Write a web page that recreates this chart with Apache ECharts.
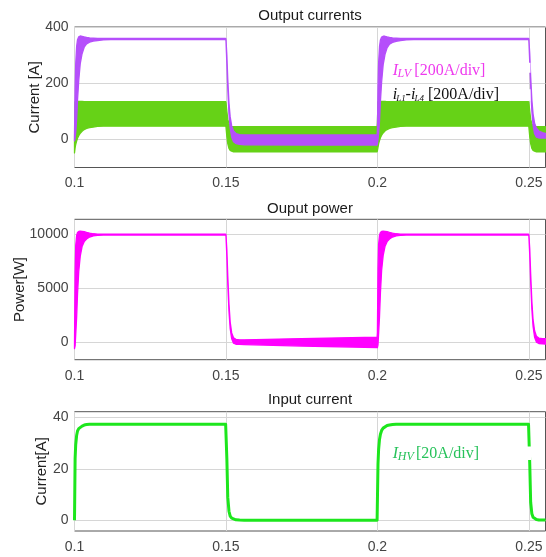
<!DOCTYPE html>
<html>
<head>
<meta charset="utf-8">
<script src="https://cdn.jsdelivr.net/npm/echarts@6/dist/echarts.min.js"></script>
<style>
  html, body { margin: 0; padding: 0; background: #fff; }
  #chart { width: 546px; height: 557px; }
</style>
</head>
<body>
<div id="chart"></div>
<script>
// Simulation time [s], shared by all three panels
const time = [
  0.1, 0.1002, 0.1004, 0.1007, 0.101, 0.1014, 0.1019, 0.1025, 0.1032, 0.104, 0.105, 0.1062, 0.1076, 0.1095, 0.112, 0.13,
  0.1499, 0.15, 0.1503, 0.1506, 0.151, 0.1514, 0.1519, 0.1525, 0.1533, 0.1545, 0.156, 0.175,
  0.1999, 0.2, 0.2002, 0.2004, 0.2007, 0.201, 0.2014, 0.2019, 0.2025, 0.2032, 0.204, 0.205, 0.2062, 0.2076, 0.2095, 0.212, 0.23,
  0.2499, 0.25, 0.2503, 0.2506, 0.251, 0.2514, 0.2519, 0.2525, 0.2533, 0.2545, 0.2555
];

// Low-voltage output current I_LV: ripple envelope (upper / lower) [A]
const ilvHigh = [
  20, 180, 270, 330, 355, 365, 368, 367, 365, 363, 361, 360, 359, 359, 359, 359,
  359, 358, 300, 215, 130, 80, 48, 30, 21, 17, 16, 16,
  16, 30, 185, 272, 330, 354, 364, 367, 367, 365, 363, 361, 360, 359, 359, 359, 359,
  359, 358, 305, 225, 140, 90, 58, 40, 30, 24, 21
];
const ilvLow = [
  -5, 5, 25, 70, 140, 210, 270, 305, 328, 340, 346, 350, 352, 354, 355, 355,
  355, 352, 270, 180, 90, 40, 8, -8, -15, -18, -19, -20,
  -20, -15, 0, 22, 65, 135, 205, 265, 302, 326, 339, 345, 349, 352, 354, 355, 355,
  355, 352, 275, 190, 100, 50, 20, 8, 5, 5, 5
];

// Phase inductor currents i_L1..i_L4: ripple envelope [A]
const iLHigh = [
  -10, 134, 135, 135, 135, 135, 135, 135, 134, 134, 134, 134, 134, 134, 134, 134,
  134, 133, 100, 72, 55, 48, 46, 45, 45, 45, 45, 45,
  45, 60, 134, 135, 135, 135, 135, 135, 135, 134, 134, 134, 134, 134, 134, 134, 134,
  134, 133, 100, 72, 55, 48, 46, 45, 45, 45, 45
];
const iLLow = [
  -48, -30, -18, -6, 4, 13, 22, 29, 35, 39, 42, 44, 46, 47, 47, 47,
  47, 45, 10, -15, -32, -39, -42, -44, -44, -44, -44, -44,
  -44, -40, -28, -16, -4, 6, 15, 23, 30, 35, 39, 42, 44, 46, 47, 47, 47,
  47, 45, 10, -15, -32, -39, -42, -44, -44, -44, -44
];

// Output power envelope [W]
const powHigh = [
  0, 6500, 9000, 9900, 10200, 10300, 10330, 10310, 10270, 10200, 10130, 10080, 10050, 10040, 10040, 10040,
  10040, 10020, 8600, 6200, 3600, 1900, 900, 450, 300, 260, 260, 380,
  500, 900, 6800, 9100, 9950, 10200, 10300, 10330, 10310, 10270, 10200, 10130, 10080, 10050, 10040, 10040, 10040,
  10040, 10020, 8700, 6400, 3800, 2100, 1100, 600, 420, 380, 370
];
const powLow = [
  -550, -300, 700, 2300, 4500, 6600, 8000, 8900, 9350, 9600, 9780, 9880, 9930, 9960, 9960, 9960,
  9960, 9900, 8000, 5500, 2900, 1300, 350, -50, -150, -170, -180, -320,
  -450, -450, -200, 800, 2400, 4600, 6700, 8050, 8900, 9350, 9600, 9780, 9880, 9930, 9960, 9960, 9960,
  9960, 9900, 8100, 5700, 3100, 1500, 500, 50, -80, -120, -130
];

// High-voltage input current I_HV [A]
const ihv = [
  0, 24, 29.5, 33, 34.8, 35.7, 36.3, 36.7, 37.1, 37.3, 37.4, 37.4, 37.4, 37.4, 37.4, 37.4,
  37.4, 37.2, 24, 9, 3.5, 1.6, 0.8, 0.4, 0.15, 0.05, 0, 0,
  0, 0.5, 22, 27.5, 31.5, 33.5, 35, 35.9, 36.5, 36.9, 37.1, 37.3, 37.4, 37.4, 37.4, 37.4, 37.4,
  37.4, 37.2, 22, 7, 2.5, 1.2, 0.6, 0.3, 0.12, 0.05, 0.05
];

// Axis ticks
const xTicks = [0.1, 0.15, 0.2, 0.25];
const yTicksTop = [0, 200, 400];
const yTicksPow = [0, 5000, 10000];
const yTicksIn = [0, 20, 40];

const SANS = '"Liberation Sans", Arial, Helvetica, sans-serif';
const SERIF = '"Liberation Serif", "Times New Roman", serif';
const LABEL_COLOR = '#444';
const GRID_COLOR = '#d6d6d6';

const chart = echarts.init(document.getElementById('chart'), null, { renderer: 'canvas' });

function xAxisFor(gridIndex) {
  return {
    type: 'value', gridIndex, min: 0.1, max: 0.2555,
    axisLine: { show: false },
    axisTick: { show: false, customValues: xTicks },
    axisLabel: { customValues: xTicks, margin: 9, color: LABEL_COLOR, fontSize: 14, fontFamily: SANS,
                 formatter: v => String(v) },
    splitLine: { show: true, lineStyle: { color: GRID_COLOR, width: 1 } }
  };
}

function yAxisFor(gridIndex, min, max, ticks, name, nameGap) {
  return {
    type: 'value', gridIndex, min, max,
    axisLine: { show: false },
    axisTick: { show: false, customValues: ticks },
    axisLabel: { customValues: ticks, margin: 6, color: LABEL_COLOR, fontSize: 14, fontFamily: SANS,
                 formatter: v => String(v) },
    splitLine: { show: true, lineStyle: { color: GRID_COLOR, width: 1 } },
    name, nameLocation: 'middle', nameRotate: 90, nameGap, nameMoveOverlap: false,
    nameTextStyle: { color: '#222', fontSize: 15, fontFamily: SANS }
  };
}

// Filled ripple envelope between a lower and an upper trace
function bandSeries(axisIndex, lo, hi, color, z) {
  return {
    type: 'custom', xAxisIndex: axisIndex, yAxisIndex: axisIndex, z, silent: true,
    data: time.map((t, i) => [t, lo[i], hi[i]]),
    encode: { x: 0, y: [1, 2] },
    renderItem(params, api) {
      if (params.dataIndex !== 0) return null;
      const n = params.dataInsideLength;
      const upper = [], lower = [];
      for (let i = 0; i < n; i++) {
        upper.push(api.coord([api.value(0, i), api.value(2, i)]));
        lower.push(api.coord([api.value(0, i), api.value(1, i)]));
      }
      return {
        type: 'polygon',
        shape: { points: upper.concat(lower.reverse()) },
        style: { fill: color, stroke: color, lineWidth: 1.3, lineJoin: 'round' }
      };
    }
  };
}

function txt(x, y, text, font, fill, align) {
  return { type: 'text', x, y, z: 100, style: { text, font, fill, align: align || 'left', verticalAlign: 'middle' } };
}
function whiteBox(x, y, w, h) {
  return { type: 'rect', shape: { x, y, width: w, height: h }, z: 90, style: { fill: '#fff' } };
}

const gridBase = { left: 74.5, width: 471, show: true, borderColor: '#555', borderWidth: 1, outerBoundsMode: 'none', containLabel: false };

const option = {
  animation: false,
  backgroundColor: '#fff',
  grid: [
    Object.assign({ top: 27, height: 140.5 }, gridBase),
    Object.assign({ top: 219.3, height: 140.4 }, gridBase),
    Object.assign({ top: 411.7, height: 119.3 }, gridBase)
  ],
  xAxis: [xAxisFor(0), xAxisFor(1), xAxisFor(2)],
  yAxis: [
    yAxisFor(0, -100, 400, yTicksTop, 'Current [A]', 32.5),
    yAxisFor(1, -1580, 11420, yTicksPow, 'Power[W]', 47.5),
    yAxisFor(2, -4.2, 42.3, yTicksIn, 'Current[A]', 25)
  ],
  series: [
    bandSeries(0, iLLow, iLHigh, '#66d217', 10),
    bandSeries(0, ilvLow, ilvHigh, '#b54ffb', 11),
    bandSeries(1, powLow, powHigh, '#ff00ff', 10),
    {
      type: 'line', xAxisIndex: 2, yAxisIndex: 2, z: 10, silent: true,
      data: time.map((t, i) => [t, ihv[i]]),
      symbol: 'none', smooth: false,
      lineStyle: { color: '#1de61d', width: 3, join: 'round' }
    }
  ],
  graphic: [
    // panel titles
    txt(310, 15.5, 'Output currents', '15px ' + SANS, '#1a1a1a', 'center'),
    txt(310, 208.8, 'Ouput power', '15px ' + SANS, '#1a1a1a', 'center'),
    txt(310, 399.8, 'Input current', '15px ' + SANS, '#1a1a1a', 'center'),
    // annotation backgrounds
    whiteBox(386, 62.7, 144.5, 10),
    whiteBox(386, 89.3, 144.5, 11.5),
    whiteBox(386, 446.6, 145, 13.5),
    // I_LV label
    txt(392.7, 71, 'I', 'italic 16px ' + SERIF, '#ee3aee'),
    txt(397.6, 74.2, 'LV', 'italic 12px ' + SERIF, '#ee3aee'),
    txt(414.3, 71, '[200A/div]', '16px ' + SERIF, '#ee3aee'),
    // i_L1 - i_L4 label
    txt(392.7, 95.2, 'i', 'italic 16px ' + SERIF, '#111'),
    txt(396.2, 98.2, 'L1', 'italic 9px ' + SERIF, '#111'),
    txt(405.6, 95.2, '-', '16px ' + SERIF, '#111'),
    txt(411, 95.2, 'i', 'italic 16px ' + SERIF, '#111'),
    txt(414.6, 98.2, 'L4', 'italic 9px ' + SERIF, '#111'),
    txt(428, 95.2, '[200A/div]', '16px ' + SERIF, '#111'),
    // I_HV label
    txt(392.7, 453.4, 'I', 'italic 16px ' + SERIF, '#27c25a'),
    txt(397.8, 456.5, 'HV', 'italic 12px ' + SERIF, '#27c25a'),
    txt(416, 453.4, '[20A/div]', '16px ' + SERIF, '#27c25a')
  ]
};

chart.setOption(option);
</script>
</body>
</html>
